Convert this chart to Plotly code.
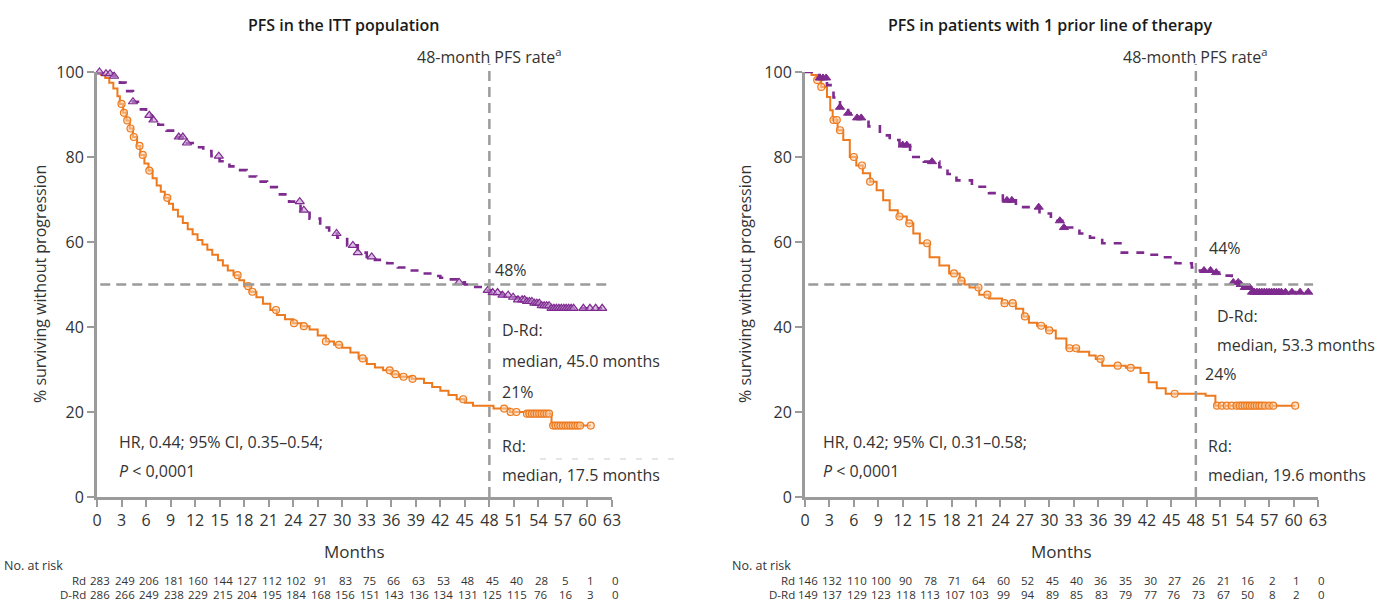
import numpy as np
import plotly.graph_objects as go

# ---------------- data ----------------
months_ticks = list(range(0, 64, 3))
y_ticks = [0, 20, 40, 60, 80, 100]

# Left panel: PFS in the ITT population
rd_itt_t = [0, 0.5, 1.0, 1.5, 2.0, 2.5, 2.8, 3.2, 3.6, 4.0, 4.4, 4.9, 5.3, 5.8, 6.3, 6.8, 7.3, 7.8,
            8.3, 8.8, 9.3, 9.9, 10.5, 11.1, 11.7, 12.3, 12.9, 13.5, 14.1, 14.8, 15.4, 16.0, 16.7,
            17.4, 18.0, 18.7, 19.5, 20.3, 21.2, 22.0, 23.0, 24.0, 25.0, 26.0, 27.0, 28.0, 29.0,
            30.0, 31.0, 32.0, 33.0, 34.0, 35.0, 36.0, 37.0, 38.5, 40.0, 41.0, 42.0, 43.0, 44.0,
            45.0, 46.0, 48.5, 50.5, 52.5, 55.6]
rd_itt_s = [100, 99.3, 98.6, 97.5, 96.1, 94.3, 92.5, 90.4, 88.6, 86.7, 84.7, 82.6, 80.5, 78.5, 76.8,
            75.0, 73.3, 71.8, 70.4, 69.0, 67.6, 66.0, 64.5, 63.0, 61.8, 60.5, 59.4, 58.2, 57.0,
            55.7, 54.5, 53.3, 52.2, 51.0, 49.6, 48.3, 47.0, 45.5, 44.0, 42.8, 41.8, 40.9, 40.2,
            39.4, 38.0, 36.6, 35.8, 35.1, 34.0, 32.6, 31.3, 30.5, 29.8, 28.9, 28.3, 27.8, 26.8,
            25.9, 25.0, 24.0, 23.0, 22.2, 21.5, 20.8, 20.0, 19.6, 16.8]
rd_itt_end = 60.4
rd_itt_cens = [3.0, 3.3, 3.7, 4.1, 4.5, 5.2, 5.6, 6.4, 8.6, 17.2, 18.5, 19.0, 21.9, 24.1, 25.3,
               28.0, 29.6, 32.5, 35.8, 36.5, 37.5, 38.6, 44.8, 49.8, 50.6, 51.3, 52.6, 52.9, 53.2,
               53.5, 53.8, 54.1, 54.4, 54.7, 55.0, 55.3, 55.8, 56.1, 56.4, 56.7, 57.0, 57.3, 57.6,
               57.9, 58.2, 58.5, 58.8, 59.1, 60.4]

drd_itt_t = [0, 1.0, 2.0, 2.8, 3.5, 4.4, 5.2, 6.0, 6.7, 7.5, 8.5, 9.8, 11.0, 12.0, 13.0, 14.0,
             15.0, 16.2, 17.2, 18.3, 19.5, 20.8, 22.0, 23.5, 24.9, 26.0, 27.3, 28.4, 29.4, 30.6,
             31.9, 33.0, 34.0, 35.5, 36.8, 38.0, 39.5, 41.0, 42.0, 43.0, 44.1, 45.0, 46.0, 47.2,
             48.2, 49.5, 50.5, 51.5, 52.5, 53.4, 54.3, 55.5]
drd_itt_s = [100, 99.6, 99.0, 97.5, 95.5, 93.0, 91.2, 89.8, 88.7, 87.6, 86.2, 84.7, 83.3, 82.3,
             81.4, 80.2, 79.0, 77.8, 76.9, 75.4, 74.2, 72.9, 71.2, 69.5, 67.5, 65.5, 63.4, 62.0,
             61.0, 59.2, 57.5, 56.5, 55.8, 55.0, 54.0, 53.3, 52.6, 52.0, 51.6, 51.2, 50.5, 50.0,
             49.4, 48.6, 48.1, 47.5, 47.0, 46.4, 46.0, 45.6, 45.0, 44.4]
drd_itt_end = 61.8
drd_itt_cens = [0.3, 1.1, 1.6, 2.1, 4.4, 6.4, 6.9, 10.0, 10.5, 11.0, 14.9, 24.8, 25.3, 29.3, 31.3,
                31.9, 33.6, 44.3, 47.8, 48.4, 49.0, 49.6, 50.3, 50.9, 51.5, 52.0, 52.3, 52.6,
                52.9, 53.2, 53.5, 53.8, 54.1, 54.4, 54.7, 55.0, 55.3, 55.6, 55.9, 56.2, 56.5,
                56.8, 57.1, 57.4, 57.7, 58.0, 58.3, 59.5, 60.3, 61.0, 61.8]

# Right panel: PFS in patients with 1 prior line of therapy
rd_1pl_t = [0, 0.8, 1.5, 2.0, 2.7, 3.1, 3.4, 4.0, 4.7, 5.5, 6.3, 7.1, 8.0, 8.8, 9.6, 10.4, 11.4,
            12.5, 13.3, 14.1, 15.3, 16.5, 17.7, 19.0, 19.6, 20.2, 21.4, 22.6, 24.2, 25.9, 26.8,
            27.5, 28.5, 29.6, 30.8, 32.1, 33.5, 34.9, 35.7, 36.5, 39.4, 41.2, 42.2, 43.2, 44.3,
            49.2, 50.4]
rd_1pl_s = [100, 99.3, 98.1, 96.5, 94.1, 91.0, 88.7, 86.3, 84.0, 80.0, 78.0, 76.2, 74.2, 72.2,
            69.8, 67.5, 66.0, 64.4, 62.0, 59.7, 56.4, 54.5, 52.6, 50.9, 50.0, 49.3, 47.6, 46.7,
            45.6, 44.3, 42.5, 41.0, 40.3, 39.2, 37.3, 35.0, 34.2, 33.3, 32.5, 30.9, 30.4, 29.2,
            27.0, 25.6, 24.3, 23.8, 21.5]
rd_1pl_end = 60.2
rd_1pl_cens = [1.5, 2.0, 3.5, 3.9, 4.3, 6.0, 7.0, 8.0, 11.6, 12.8, 15.0, 18.3, 19.2, 21.3, 22.4,
               24.5, 25.5, 27.0, 29.0, 30.0, 32.5, 33.3, 36.3, 38.4, 40.0, 45.4, 50.6, 51.2,
               51.8, 52.4, 53.0, 53.4, 53.7, 54.0, 54.3, 54.6, 54.9, 55.2, 55.5, 55.8, 56.1,
               56.5, 57.0, 57.5, 60.2]

drd_1pl_t = [0, 1.0, 1.8, 2.7, 3.5, 4.3, 5.3, 6.4, 7.8, 9.2, 10.4, 11.6, 12.9, 14.6, 16.5, 17.5,
             18.6, 20.5, 22.6, 24.3, 25.9, 28.8, 30.2, 31.6, 33.7, 35.0, 36.5, 38.9, 41.5, 43.8,
             45.5, 47.5, 48.3, 50.0, 51.6, 52.4, 53.3, 53.6, 54.8]
drd_1pl_s = [100, 99.3, 98.6, 96.9, 94.0, 91.7, 90.3, 89.2, 87.2, 85.1, 84.0, 82.8, 80.0, 78.9,
             77.6, 76.0, 74.5, 73.0, 71.5, 69.8, 68.2, 66.7, 65.0, 63.4, 62.0, 61.0, 59.7, 57.5,
             57.0, 56.4, 55.0, 54.0, 53.3, 52.8, 52.1, 50.5, 50.0, 49.3, 48.2]
drd_1pl_end = 61.8
drd_1pl_cens = [1.8, 2.2, 2.6, 4.3, 5.3, 6.4, 6.9, 12.0, 12.5, 15.6, 24.8, 25.4, 28.7, 31.3, 31.8,
                49.0, 49.8, 50.5, 52.6, 53.2, 53.5, 54.0, 54.3, 54.6, 54.9, 55.2, 55.5, 55.8,
                56.1, 56.4, 56.7, 57.0, 57.3, 57.6, 57.9, 58.2, 58.5, 59.0, 59.8, 60.8, 61.8]

# Number at risk tables
risk_itt_rd = [283, 249, 206, 181, 160, 144, 127, 112, 102, 91, 83, 75, 66, 63, 53, 48, 45, 40, 28, 5, 1, 0]
risk_itt_drd = [286, 266, 249, 238, 229, 215, 204, 195, 184, 168, 156, 151, 143, 136, 134, 131, 125, 115, 76, 16, 3, 0]
risk_1pl_rd = [146, 132, 110, 100, 90, 78, 71, 64, 60, 52, 45, 40, 36, 35, 30, 27, 26, 21, 16, 2, 1, 0]
risk_1pl_drd = [149, 137, 129, 123, 118, 113, 107, 103, 99, 94, 89, 85, 83, 79, 77, 76, 73, 67, 50, 8, 2, 0]

# ---------------- style ----------------
W, H = 1384, 603
FONT = "Open Sans"
ORANGE = "#ED7A1F"
PURPLE = "#7E2A8E"
AXIS = "#9B9B9B"
TXT = "#333333"


def px_x(p):
    return p / W


def px_y(p):
    return (H - p) / H


def step_value(ts, ss, t):
    i = int(np.searchsorted(np.asarray(ts), t, side="right")) - 1
    return ss[max(i, 0)]


fig = go.Figure()


def add_panel(xa, ya, rd_t, rd_s, rd_end, rd_c, drd_t, drd_s, drd_end, drd_c, tri_filled):
    # Rd curve
    fig.add_trace(go.Scatter(x=rd_t + [rd_end], y=rd_s + [rd_s[-1]], mode="lines",
                             line=dict(color=ORANGE, width=2, shape="hv"),
                             xaxis=xa, yaxis=ya, showlegend=False, hoverinfo="skip"))
    fig.add_trace(go.Scatter(x=rd_c, y=[step_value(rd_t, rd_s, t) for t in rd_c], mode="markers",
                             marker=dict(symbol="circle", size=7, color="rgba(250,205,165,0.55)",
                                         line=dict(color=ORANGE, width=1.2)),
                             xaxis=xa, yaxis=ya, showlegend=False, cliponaxis=False, hoverinfo="skip"))
    # D-Rd curve
    fig.add_trace(go.Scatter(x=drd_t + [drd_end], y=drd_s + [drd_s[-1]], mode="lines",
                             line=dict(color=PURPLE, width=2.6, shape="hv", dash="8px,8px"),
                             xaxis=xa, yaxis=ya, showlegend=False, hoverinfo="skip"))
    if tri_filled:
        mk = dict(symbol="triangle-up", size=8, color=PURPLE, line=dict(color=PURPLE, width=1))
    else:
        mk = dict(symbol="triangle-up", size=8, color="rgba(195,150,212,0.6)",
                  line=dict(color=PURPLE, width=1.2))
    fig.add_trace(go.Scatter(x=drd_c, y=[step_value(drd_t, drd_s, t) for t in drd_c], mode="markers",
                             marker=mk, xaxis=xa, yaxis=ya, showlegend=False,
                             cliponaxis=False, hoverinfo="skip"))


add_panel("x", "y", rd_itt_t, rd_itt_s, rd_itt_end, rd_itt_cens,
          drd_itt_t, drd_itt_s, drd_itt_end, drd_itt_cens, False)
add_panel("x2", "y2", rd_1pl_t, rd_1pl_s, rd_1pl_end, rd_1pl_cens,
          drd_1pl_t, drd_1pl_s, drd_1pl_end, drd_1pl_cens, True)

y_dom = [px_y(497), px_y(72)]
axis_common = dict(showline=True, linecolor=AXIS, linewidth=3, ticks="outside", ticklen=7,
                   tickwidth=2, tickcolor=AXIS, showgrid=False, zeroline=False, automargin=False,
                   tickfont=dict(family=FONT, size=16, color=TXT), fixedrange=True)

fig.update_layout(
    template="none",
    width=W, height=H, margin=dict(l=0, r=0, t=0, b=0, pad=0, autoexpand=False),
    paper_bgcolor="white", plot_bgcolor="white",
    font=dict(family=FONT, color=TXT),
    xaxis=dict(domain=[px_x(97), px_x(612)], range=[0, 63], tickvals=months_ticks,
               anchor="y", **axis_common),
    yaxis=dict(domain=y_dom, range=[0, 100], tickvals=y_ticks, anchor="x", **axis_common),
    xaxis2=dict(domain=[px_x(805), px_x(1318)], range=[0, 63], tickvals=months_ticks,
                anchor="y2", **axis_common),
    yaxis2=dict(domain=y_dom, range=[0, 100], tickvals=y_ticks, anchor="x2", **axis_common),
)

shapes = []
ann = []

panels = [
    dict(xa="x", ya="y", title="PFS in the ITT population", title_x=343,
         ytitle_x=40, no_risk_x=2, lab_x=88, hr="HR, 0.44; 95% CI, 0.35–0.54;", hr_x=2.4,
         drd_pct="48%", drd_pct_pos=(48.4, 53.4), drd_x=49.3, drd_y=(39.3, 32.0),
         drd_med="median, 45.0 months",
         rd_pct="21%", rd_pct_pos=(49.3, 24.7), rd_x=49.3, rd_y=(12.0, 5.2),
         rd_med="median, 17.5 months", risk_rd=risk_itt_rd, risk_drd=risk_itt_drd),
    dict(xa="x2", ya="y2", title="PFS in patients with 1 prior line of therapy", title_x=1050,
         ytitle_x=745, no_risk_x=730, lab_x=797, hr="HR, 0.42; 95% CI, 0.31–0.58;", hr_x=2.0,
         drd_pct="44%", drd_pct_pos=(49.4, 58.6), drd_x=50.3, drd_y=(42.6, 35.8),
         drd_med="median, 53.3 months",
         rd_pct="24%", rd_pct_pos=(48.9, 28.9), rd_x=49.3, rd_y=(12.0, 5.2),
         rd_med="median, 19.6 months", risk_rd=risk_1pl_rd, risk_drd=risk_1pl_drd),
]

for p in panels:
    xa, ya = p["xa"], p["ya"]
    # reference lines
    shapes.append(dict(type="line", xref=xa, yref=ya, x0=0.4, x1=62.4, y0=50, y1=50,
                       line=dict(color=AXIS, width=2.5, dash="10px,6px")))
    shapes.append(dict(type="line", xref=xa, yref="paper", x0=48, x1=48, y0=px_y(497), y1=px_y(64),
                       line=dict(color=AXIS, width=2.5, dash="10px,6px")))
    # titles
    ann.append(dict(text=p["title"], xref="paper", yref="paper", x=px_x(p["title_x"]), y=px_y(25),
                    showarrow=False, xanchor="center", yanchor="middle",
                    font=dict(family=FONT, size=16, color="#1a1a1a", weight=600)))
    ann.append(dict(text="48-month PFS rate<sup>a</sup>", xref=xa, yref="paper", x=48, y=px_y(56),
                    showarrow=False, xanchor="center", yanchor="middle",
                    font=dict(family=FONT, size=16, color=TXT)))
    ann.append(dict(text="% surviving without progression", xref="paper", yref="paper",
                    x=px_x(p["ytitle_x"]), y=px_y(284), textangle=-90, showarrow=False,
                    xanchor="center", yanchor="middle", font=dict(family=FONT, size=16, color=TXT)))
    ann.append(dict(text="Months", xref=xa + " domain", yref="paper", x=0.5, y=px_y(551),
                    showarrow=False, xanchor="center", yanchor="middle",
                    font=dict(family=FONT, size=17, color=TXT)))
    # in-plot text
    def txt(s, x, y, size=16):
        ann.append(dict(text=s, xref=xa, yref=ya, x=x, y=y, showarrow=False, xanchor="left",
                        yanchor="middle", font=dict(family=FONT, size=size, color=TXT)))
    txt(p["drd_pct"], *p["drd_pct_pos"])
    txt("D-Rd:", p["drd_x"], p["drd_y"][0])
    txt(p["drd_med"], p["drd_x"], p["drd_y"][1])
    txt(p["rd_pct"], *p["rd_pct_pos"])
    txt("Rd:", p["rd_x"], p["rd_y"][0])
    txt(p["rd_med"], p["rd_x"], p["rd_y"][1])
    txt(p["hr"], p["hr_x"], 12.9)
    txt("<i>P</i> < 0,0001", p["hr_x"], 6.1)
    # risk table
    ann.append(dict(text="No. at risk", xref="paper", yref="paper", x=px_x(p["no_risk_x"]),
                    y=px_y(565), showarrow=False, xanchor="left", yanchor="middle",
                    font=dict(family=FONT, size=12.5, color=TXT)))
    for lab, row, yy in (("Rd", p["risk_rd"], 580), ("D-Rd", p["risk_drd"], 594)):
        ann.append(dict(text=lab, xref="paper", yref="paper", x=px_x(p["lab_x"]), y=px_y(yy),
                        showarrow=False, xanchor="right", yanchor="middle",
                        font=dict(family=FONT, size=11.5, color=TXT)))
        for m, v in zip(months_ticks, row):
            ann.append(dict(text=str(v), xref=xa, yref="paper", x=m, y=px_y(yy), showarrow=False,
                            xanchor="center", yanchor="middle", xshift=3,
                            font=dict(family=FONT, size=11.5, color=TXT)))

# faint dashed artifact in left panel
shapes.append(dict(type="line", xref="paper", yref="paper", x0=px_x(540), x1=px_x(678),
                   y0=px_y(459), y1=px_y(459), line=dict(color="#DDDDDD", width=1.5, dash="6px,10px")))

fig.update_layout(shapes=shapes, annotations=ann)
fig.write_html("out.html",
               post_script="document.body.style.margin='0';document.body.style.overflow='hidden';")
